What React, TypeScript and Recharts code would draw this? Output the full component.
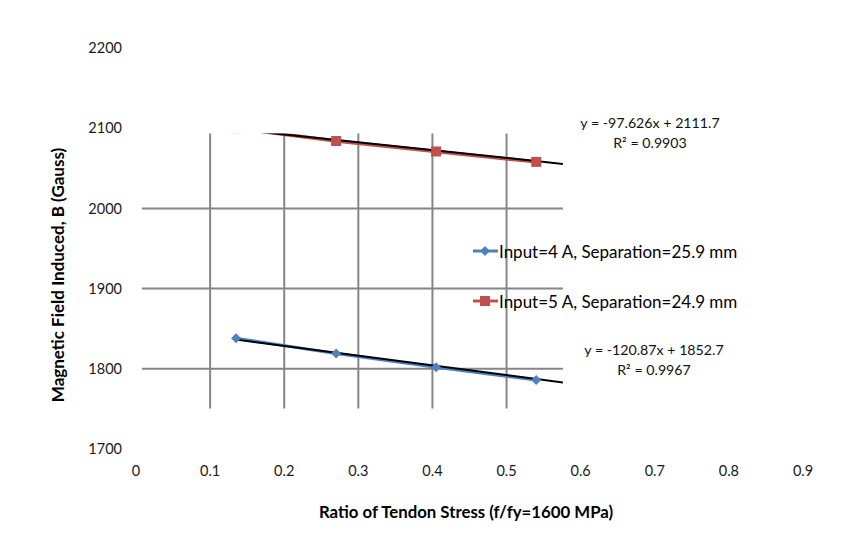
import { LineChart, Line, XAxis, YAxis, CartesianGrid } from 'recharts'

const xTicks = [0, 0.1, 0.2, 0.3, 0.4, 0.5, 0.6, 0.7, 0.8, 0.9]
const yTicks = [1700, 1800, 1900, 2000, 2100, 2200]

const ratio = [0.135, 0.27, 0.405, 0.54]
const field4A = [1838, 1819, 1802, 1786]
const field5A = [2100, 2084, 2071, 2058]

// Excel linear trendlines, as printed on the chart
const fitSlope = [-120.87, -97.626]
const fitIntercept = [1852.7, 2111.7]
const fitR2 = ['0.9967', '0.9903']
const fitSpan = [0.135, 0.64]

const seriesNames = ['Input=4 A, Separation=25.9 mm', 'Input=5 A, Separation=24.9 mm']
const seriesColors = ['#4F81BD', '#C0504D']

// visible window of the plot area (data units)
const clipX = [0.008, 0.576]
const clipY = [1750.5, 2093.5]

const W = 853
const H = 545
const M = { top: 48, right: 50, bottom: 66, left: 76 }
const Y_W = 60
const X_H = 30
const X_MAX = 0.9
const Y_MIN = 1700
const Y_MAX = 2200
const FONT = 'Lato, "Open Sans", sans-serif'

const plotL = M.left + Y_W
const plotT = M.top
const plotW = W - plotL - M.right
const plotH = H - M.top - M.bottom - X_H
const px = (v: number) => plotL + (v / X_MAX) * plotW
const py = (v: number) => plotT + ((Y_MAX - v) / (Y_MAX - Y_MIN)) * plotH

const data4 = ratio.map((x, i) => ({ x, y: field4A[i] }))
const data5 = ratio.map((x, i) => ({ x, y: field5A[i] }))
const trend = fitSlope.map((m, k) => fitSpan.map((x) => ({ x, y: m * x + fitIntercept[k] })))

const Diamond = (p: any) => {
  const { cx, cy } = p
  if (cx == null || cy == null) return <g key={p.key} />
  return <path key={p.key} d={`M${cx},${cy - 5}L${cx + 5},${cy}L${cx},${cy + 5}L${cx - 5},${cy}Z`} fill={seriesColors[0]} />
}

const Square = (p: any) => {
  const { cx, cy } = p
  if (cx == null || cy == null) return <g key={p.key} />
  return <rect key={p.key} x={cx - 5} y={cy - 5} width={10} height={10} fill={seriesColors[1]} />
}

function LegendBox() {
  return (
    <div style={{ position: 'absolute', left: 473, top: 238, fontFamily: FONT, fontSize: 17, color: '#000' }}>
      {seriesNames.map((name, i) => (
        <div key={name} style={{ display: 'flex', alignItems: 'center', height: 26, marginBottom: i === 0 ? 24 : 0 }}>
          <svg width={26} height={12}>
            <line x1={0} y1={6} x2={25} y2={6} stroke={seriesColors[i]} strokeWidth={3} />
            {i === 0
              ? <path d="M12,1L17,6L12,11L7,6Z" fill={seriesColors[0]} />
              : <rect x={7} y={1} width={10} height={10} fill={seriesColors[1]} />}
          </svg>
          <span>{name}</span>
        </div>
      ))}
    </div>
  )
}

export default function App() {
  const cx0 = px(clipX[0])
  const cx1 = px(clipX[1])
  const cy0 = py(clipY[1])
  const cy1 = py(clipY[0])
  const eqPos = [{ x: 654, y: 350 }, { x: 650, y: 123 }]

  return (
    <div style={{ position: 'absolute', left: 0, top: 0, width: W, height: H, background: '#fff' }}>
      <style>{`.recharts-cartesian-grid, .plot-clip, .recharts-line-dots, .recharts-line { clip-path: url(#plotClip); }`}</style>
      <LineChart width={W} height={H} margin={M}>
        <defs>
          <clipPath id="plotClip">
            <rect x={cx0} y={cy0} width={cx1 - cx0} height={cy1 - cy0} />
          </clipPath>
        </defs>
        <CartesianGrid stroke="#868686" strokeWidth={2} horizontal vertical />
        <XAxis
          type="number"
          dataKey="x"
          domain={[0, X_MAX]}
          ticks={xTicks}
          height={X_H}
          axisLine={false}
          tickLine={false}
          tickMargin={11}
          interval={0}
          allowDuplicatedCategory={false}
          tick={{ fontSize: 14.5, fill: '#1a1a1a', fontFamily: FONT }}
        />
        <YAxis
          type="number"
          domain={[Y_MIN, Y_MAX]}
          ticks={yTicks}
          width={Y_W}
          axisLine={false}
          tickLine={false}
          tickMargin={8}
          interval={0}
          tick={{ fontSize: 14.5, fill: '#1a1a1a', fontFamily: FONT }}
        />
        <Line className="plot-clip" data={data4} dataKey="y" stroke={seriesColors[0]} strokeWidth={3} dot={Diamond} activeDot={false} isAnimationActive={false} />
        <Line className="plot-clip" data={data5} dataKey="y" stroke={seriesColors[1]} strokeWidth={3.5} dot={Square} activeDot={false} isAnimationActive={false} />
        {trend.map((t, k) => (
          <Line key={k} className="plot-clip" data={t} dataKey="y" stroke="#000" strokeWidth={2} dot={false} activeDot={false} isAnimationActive={false} />
        ))}
        {fitSlope.map((m, k) => (
          <text key={`eq${k}`} x={eqPos[k].x} y={eqPos[k].y} textAnchor="middle" fontFamily={FONT} fontSize={14.2} fill="#111">
            <tspan x={eqPos[k].x} dy="0.35em">{`y = ${m}x + ${fitIntercept[k]}`}</tspan>
            <tspan x={eqPos[k].x} dy={20}>R² = {fitR2[k]}</tspan>
          </text>
        ))}
        <text x={57} y={275} transform="rotate(-90 57 275)" textAnchor="middle" dominantBaseline="central" fontFamily={FONT} fontWeight="bold" fontSize={17} fill="#000">
          Magnetic Field Induced, B (Gauss)
        </text>
        <text x={466} y={511} textAnchor="middle" dominantBaseline="central" fontFamily={FONT} fontWeight="bold" fontSize={16.8} fill="#000">
          Ratio of Tendon Stress (f/fy=1600 MPa)
        </text>
      </LineChart>
      <LegendBox />
    </div>
  )
}
